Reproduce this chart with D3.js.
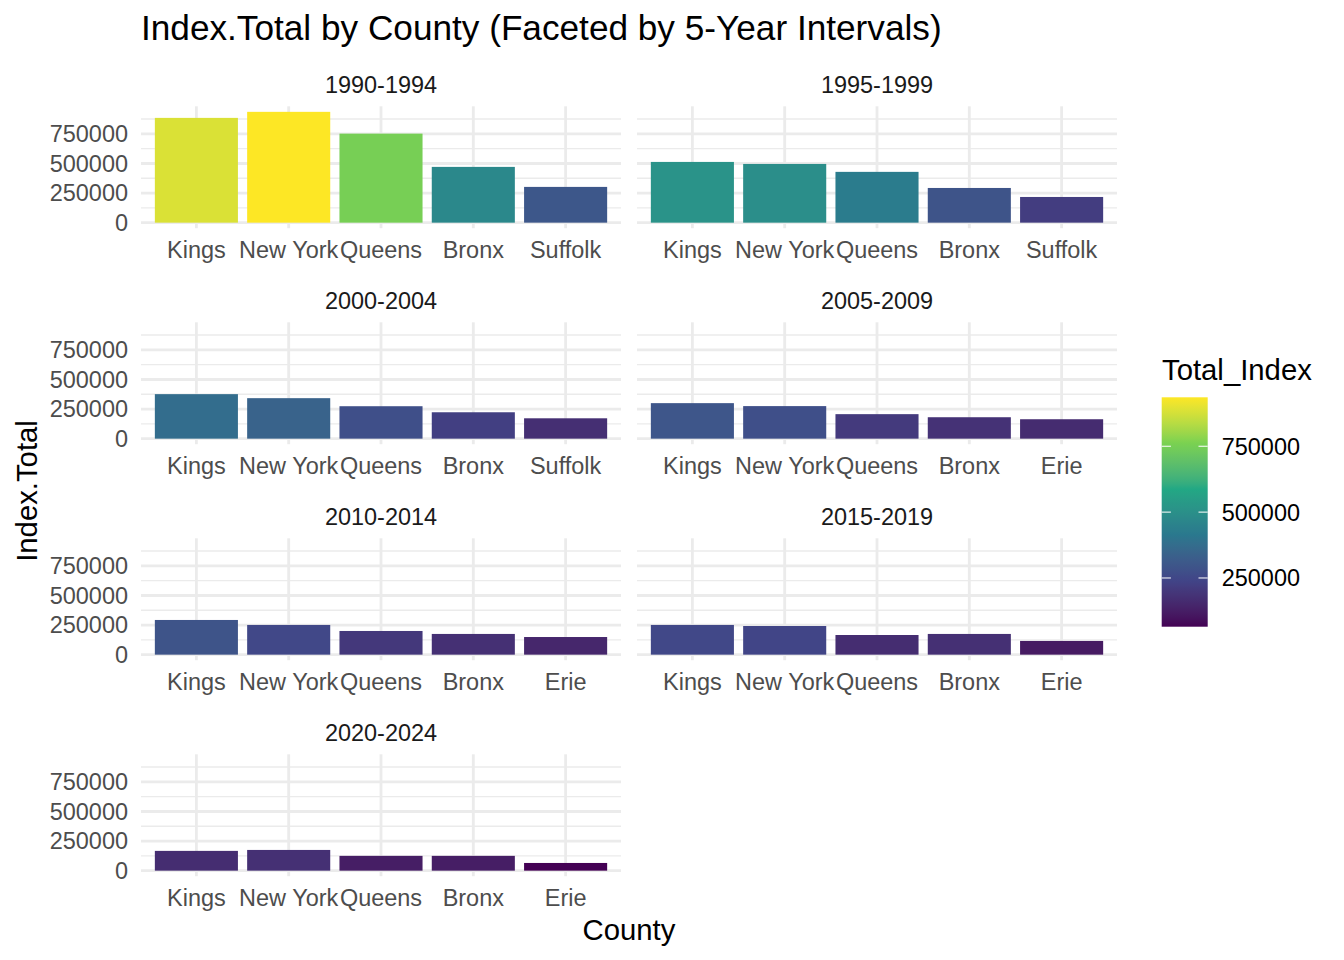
<!DOCTYPE html>
<html>
<head>
<meta charset="utf-8">
<script src="https://cdn.jsdelivr.net/npm/d3@7"></script>
<style>
  html, body { margin: 0; padding: 0; background: #fff; }
  svg { display: block; font-family: "Liberation Sans", Arial, Helvetica, sans-serif; }
</style>
</head>
<body>
<svg id="chart" width="1344" height="960"></svg>
<script>
// ---- Data ----
const intervals = ["1990-1994", "1995-1999", "2000-2004", "2005-2009", "2010-2014", "2015-2019", "2020-2024"];
const countiesSuffolk = ["Kings", "New York", "Queens", "Bronx", "Suffolk"];
const countiesErie = ["Kings", "New York", "Queens", "Bronx", "Erie"];
const panelCounties = [countiesSuffolk, countiesSuffolk, countiesSuffolk, countiesErie, countiesErie, countiesErie, countiesErie];
const values1990 = [885000, 936000, 752000, 471000, 302000];
const values1995 = [513000, 496000, 429000, 293000, 217000];
const values2000 = [376000, 342000, 274000, 223000, 172000];
const values2005 = [300000, 275000, 207000, 181000, 164000];
const values2010 = [293000, 251000, 200000, 175000, 149000];
const values2015 = [251000, 242000, 166000, 175000, 116000];
const values2020 = [167000, 175000, 125000, 125000, 65000];
const panelValues = [values1990, values1995, values2000, values2005, values2010, values2015, values2020];
const yTicks = [0, 250000, 500000, 750000];
const yMinorTicks = [125000, 375000, 625000, 875000];
const legendTicks = [250000, 500000, 750000];
const viridis6 = ["#440154", "#414487", "#2A788E", "#22A884", "#7AD151", "#FDE725"];

// ---- Layout ----
const svg = d3.select("#chart");
const colX = [141, 637];
const panelW = 480;
const rowTop0 = 106.3, rowStep = 216, panelH = 121.9;
const tickFont = 23.47, axisTitleFont = 29.3, titleFont = 35.2;

const allVals = panelValues.flat();
const vMax = d3.max(allVals), vMin = d3.min(allVals);
const pal = d3.scaleLinear().domain(d3.range(6).map(i => i / 5)).range(viridis6).interpolate(d3.interpolateLab);
const norm = d3.scaleLinear().domain([vMin, vMax]).range([0, 1]);
const color = v => pal(norm(v));

// title
svg.append("text").attr("x", 141).attr("y", 40)
  .attr("font-size", titleFont).attr("fill", "#000")
  .text("Index.Total by County (Faceted by 5-Year Intervals)");

intervals.forEach((name, i) => {
  const col = i % 2, row = Math.floor(i / 2);
  const x0 = colX[col], top = rowTop0 + row * rowStep;
  const g = svg.append("g");
  const cats = panelCounties[i], vals = panelValues[i];
  const y = d3.scaleLinear().domain([-0.05 * vMax, 1.05 * vMax]).range([top + panelH, top]);
  const x = d3.scaleBand().domain(cats).range([x0, x0 + panelW]).paddingInner(0.1).paddingOuter(0.15);

  g.selectAll(".minor").data(yMinorTicks.filter(t => y(t) >= top)).join("line")
    .attr("x1", x0).attr("x2", x0 + panelW).attr("y1", d => y(d)).attr("y2", d => y(d))
    .attr("stroke", "#EBEBEB").attr("stroke-width", 1.42);
  g.selectAll(".major").data(yTicks).join("line")
    .attr("x1", x0).attr("x2", x0 + panelW).attr("y1", d => y(d)).attr("y2", d => y(d))
    .attr("stroke", "#EBEBEB").attr("stroke-width", 2.84);
  g.selectAll(".vgrid").data(cats).join("line")
    .attr("x1", d => x(d) + x.bandwidth() / 2).attr("x2", d => x(d) + x.bandwidth() / 2)
    .attr("y1", top).attr("y2", top + panelH)
    .attr("stroke", "#EBEBEB").attr("stroke-width", 2.84);

  g.selectAll(".bar").data(cats.map((c, j) => ({c, v: vals[j]}))).join("rect")
    .attr("x", d => x(d.c)).attr("width", x.bandwidth())
    .attr("y", d => y(d.v)).attr("height", d => y(0) - y(d.v))
    .attr("fill", d => color(d.v));

  g.append("text").attr("x", x0 + panelW / 2).attr("y", top - 13)
    .attr("text-anchor", "middle").attr("font-size", tickFont).attr("fill", "#1A1A1A").text(name);

  g.selectAll(".xl").data(cats).join("text")
    .attr("x", d => x(d) + x.bandwidth() / 2).attr("y", top + panelH + 30)
    .attr("text-anchor", "middle").attr("font-size", tickFont).attr("fill", "#4D4D4D").text(d => d);

  if (col === 0) {
    g.selectAll(".yl").data(yTicks).join("text")
      .attr("x", x0 - 13).attr("y", d => y(d) + 8.4)
      .attr("text-anchor", "end").attr("font-size", tickFont).attr("fill", "#4D4D4D")
      .text(d => d3.format("d")(d));
  }
});

svg.append("text").attr("transform", "translate(37,491) rotate(-90)")
  .attr("text-anchor", "middle").attr("font-size", axisTitleFont).attr("fill", "#000").text("Index.Total");
svg.append("text").attr("x", 629).attr("y", 940)
  .attr("text-anchor", "middle").attr("font-size", axisTitleFont).attr("fill", "#000").text("County");

// legend
const lgX = 1161.7, lgW = 46, lgTop = 397.3, lgBot = 626.7;
const ly = d3.scaleLinear().domain([vMin, vMax]).range([lgBot, lgTop]);
const defs = svg.append("defs");
const grad = defs.append("linearGradient").attr("id", "vgrad")
  .attr("x1", 0).attr("y1", 1).attr("x2", 0).attr("y2", 0);
d3.range(0, 1.0001, 0.02).forEach(t => {
  grad.append("stop").attr("offset", t).attr("stop-color", pal(t));
});
svg.append("text").attr("x", 1162).attr("y", 379.5)
  .attr("font-size", axisTitleFont).attr("fill", "#000").text("Total_Index");
svg.append("rect").attr("x", lgX).attr("y", lgTop).attr("width", lgW).attr("height", lgBot - lgTop)
  .attr("fill", "url(#vgrad)");
const lt = svg.append("g");
legendTicks.forEach(t => {
  lt.append("line").attr("x1", lgX).attr("x2", lgX + 9.2).attr("y1", ly(t)).attr("y2", ly(t))
    .attr("stroke", "#fff").attr("stroke-opacity", 0.85).attr("stroke-width", 1.2);
  lt.append("line").attr("x1", lgX + lgW - 9.2).attr("x2", lgX + lgW).attr("y1", ly(t)).attr("y2", ly(t))
    .attr("stroke", "#fff").attr("stroke-opacity", 0.85).attr("stroke-width", 1.2);
  lt.append("text").attr("x", 1221.7).attr("y", ly(t) + 8.4)
    .attr("font-size", tickFont).attr("fill", "#000").text(d3.format("d")(t));
});
</script>
</body>
</html>
